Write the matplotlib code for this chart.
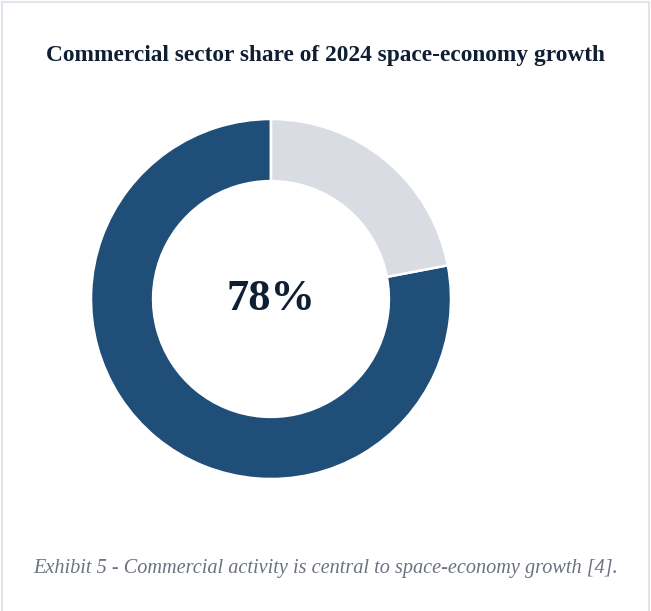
import matplotlib
matplotlib.use("Agg")
import matplotlib.pyplot as plt
from matplotlib.lines import Line2D

# Share of 2024 space-economy growth
labels = ["Commercial", "Other"]
shares = [78, 22]
colors = ["#1f4e79", "#d9dde3"]

title = "Commercial sector share of 2024 space-economy growth"
caption = "Exhibit 5 - Commercial activity is central to space-economy growth [4]."

W, H = 651, 611
fig = plt.figure(figsize=(W / 100, H / 100), dpi=100)
fig.patch.set_facecolor("white")

# Card border (top, left, right)
border = "#e1e5eb"
fig.add_artist(Line2D([2 / W, 2 / W], [0, 1 - 2 / H], color=border, lw=1.5, transform=fig.transFigure))
fig.add_artist(Line2D([649 / W, 649 / W], [0, 1 - 2 / H], color=border, lw=1.5, transform=fig.transFigure))
fig.add_artist(Line2D([2 / W, 649 / W], [1 - 2 / H, 1 - 2 / H], color=border, lw=1.5, transform=fig.transFigure))

# Donut
cx, cy, r = 271, 299, 180
ax = fig.add_axes([(cx - r) / W, (H - cy - r) / H, 2 * r / W, 2 * r / H])
ax.pie(shares, colors=colors, startangle=90, counterclock=True, radius=1.0,
       wedgeprops=dict(width=0.345, edgecolor="white", linewidth=1.8))
ax.set_xlim(-1.0, 1.0)
ax.set_ylim(-1.0, 1.0)
ax.set_aspect("equal")
ax.axis("off")

ax.text(0, 0.0, f"{shares[0]}%", ha="center", va="center",
        fontsize=32, fontweight="bold", family="Liberation Serif", color="#0f1f33")

fig.text(0.5, 1 - 56 / H, title, ha="center", va="center",
         fontsize=16.8, fontweight="bold", family="Liberation Serif", color="#0f1f33")

fig.text(0.5, 1 - 568 / H, caption, ha="center", va="center",
         fontsize=14.6, style="italic", family="Liberation Serif", color="#6b7280")

fig.savefig("out.png", dpi=100, facecolor="white")
